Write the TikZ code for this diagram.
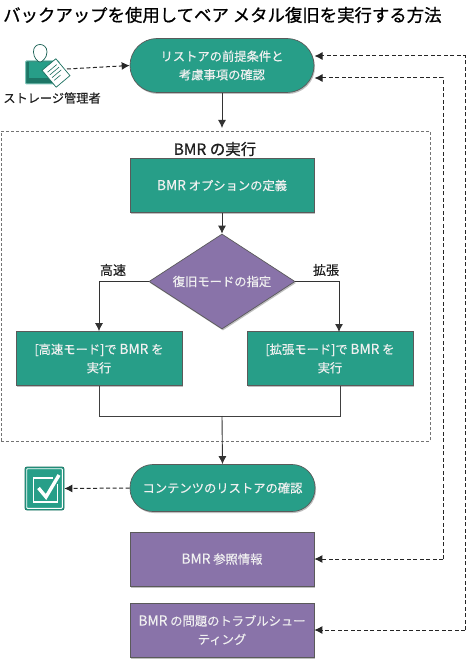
\documentclass[tikz,border=0pt]{standalone}
\usepackage{fontspec}
\setmainfont{Noto Sans CJK JP}
\newfontfamily\medf[FakeBold=0.35]{Noto Sans CJK JP}
\newfontfamily\headf[FakeBold=0.8]{Noto Sans CJK JP}
\newcommand{\bmrword}{{\fontsize{13.8}{18.5}\selectfont BMR}}
\usetikzlibrary{arrows.meta,shapes.geometric,shadows,calc}
\definecolor{teal1}{HTML}{279E88}
\definecolor{purp}{HTML}{8973A9}
\definecolor{edge}{HTML}{5A5A5A}
\tikzset{
 x=1pt,y=-1pt,
 shad/.style={drop shadow={shadow xshift=1pt,shadow yshift=-1.5pt,opacity=.25,fill=black}},
 tx/.style={text=white!94!black,font=\medf\fontsize{12.3}{18.5}\selectfont,align=center},
 boxbase/.style={draw=edge,line width=.7pt,minimum width=184pt,minimum height=54pt,inner sep=0pt,shad,tx},
 greenbox/.style={boxbase,fill=teal1},
 purpbox/.style={boxbase,fill=purp},
 sidebox/.style={greenbox,minimum width=166pt},
 pillbox/.style={boxbase,fill=teal1},
 lab/.style={text=black!88,font=\medf\fontsize{12.2}{14}\selectfont,inner sep=0pt},
 flow/.style={draw=black!80,line width=.9pt,-{Latex[length=8pt,width=8pt]}},
 plainline/.style={draw=black!75,line width=.9pt},
 dashflow/.style={draw=black!85,line width=1pt,dash pattern=on 4pt off 2.5pt,-{Latex[length=8pt,width=8pt]}},
}
\begin{document}
\begin{tikzpicture}
\useasboundingbox (0,0) rectangle (470,660);
\node[anchor=west,inner sep=0pt,font=\headf\fontsize{17.4}{20}\selectfont] (title) at (3,15) {バックアップを使用してベア メタル復旧を実行する方法};
% BMR frame
\node[draw=black!55,densely dashed,line width=.7pt,minimum width=429pt,minimum height=310pt,inner sep=0pt] (frame) at (215.5,286) {};
\node[lab,font=\headf\fontsize{15.5}{17}\selectfont] (framelab) at (215,149) {BMR の実行};
% nodes
\node[pillbox,rounded corners=27pt] (check) at (222,65.5) {リストアの前提条件と\\考慮事項の確認};
\node[greenbox] (opt) at (222,185.5) {\bmrword{} オプションの定義};
\node[diamond,draw=edge,line width=.7pt,fill=purp,shad,tx,minimum width=146pt,minimum height=95pt,inner sep=0pt,aspect=1.54] (mode) at (222,281.5) {復旧モードの指定};
\node[sidebox] (fast) at (99,358.5) {[高速モード]で \bmrword{} を\\実行};
\node[sidebox] (ext) at (330,358.5) {[拡張モード]で \bmrword{} を\\実行};
\node[pillbox,rounded corners=23pt,minimum width=185pt,minimum height=47pt] (verify) at (222.5,488) {コンテンツのリストアの確認};
\node[purpbox] (ref) at (222,559) {\bmrword{} 参照情報};
\node[purpbox] (trouble) at (222,630) {\bmrword{} の問題のトラブルシュー\\ティング};
% admin icon
\node[lab] (admin) at (52,98) {ストレージ管理者};
\coordinate (adminout) at (67,69);
\filldraw[fill=teal1!75!black,draw=teal1!60,line width=1pt,rounded corners=1pt] (25.5,61) rectangle (59,84);
\fill[teal1] (29,62) rectangle (54,78);
\draw[teal1!60!black,line width=.7pt,fill=white] (33.5,52) .. controls (33,42) and (47,42) .. (47,52) .. controls (47,58) and (42,62) .. (40,62) .. controls (38,62) and (33.5,58) .. (33.5,52) -- cycle;
\begin{scope}[rotate around={40:(56,73)}]
 \filldraw[fill=white,draw=teal1!70!black,line width=.7pt] (47,62) rectangle (65,84);
 \draw[teal1!70!black,line width=.6pt] (50,67) -- (62,67) (50,70.5) -- (62,70.5) (50,74) -- (62,74) (50,77.5) -- (58,77.5);
\end{scope}
% check icon
\node[fill=teal1,draw=teal1!70!black,line width=.7pt,rounded corners=2pt,minimum width=39pt,minimum height=43pt,inner sep=0pt] (done) at (44.5,488.5) {};
\draw[white,line width=.8pt,rounded corners=1pt] ($(done.north west)+(2,2)$) rectangle ($(done.south east)+(-2,-2)$);
\draw[white,line width=1.8pt] (57.5,484) -- (57.5,502) -- (33.5,502) -- (33.5,478) -- (53,478);
\draw[white,line width=3.4pt] (38.5,488) -- (46,497) -- (59,475);
% connectors
\coordinate (extin) at (339,332);
\coordinate (mergeL) at (99,416);
\coordinate (mergeR) at (340,416);
\coordinate (mergeC) at (222,416);
\coordinate (extout) at (340,386);
\coordinate (frameIn) at (222,128);
\draw[dashflow] (adminout) -- (check.west);
\draw[flow] (check) -- (frameIn);
\draw[flow] (opt) -- (mode);
\draw[flow] (mode.west) -| (fast.north);
\draw[flow] (mode.east) -| (extin);
\draw[plainline] (fast.south) -- (mergeL) -- (mergeR) -- (extout);
\draw[flow] (mergeC) -- (verify.north);
\draw[dashflow] (verify.west) -- (done.east);
\coordinate (r1) at (443,78);
\coordinate (r1e) at (314.5,78);
\coordinate (r2) at (443,559);
\coordinate (s1) at (465,56);
\coordinate (s1e) at (314.5,56);
\coordinate (s2) at (465,630);
\draw[dashflow] (r2) -- (r1) -- (r1e);
\draw[dashflow] (r2) -- (ref.east);
\draw[dashflow] (s2) -- (s1) -- (s1e);
\draw[dashflow] (s2) -- (trouble.east);
\node[lab,font=\medf\fontsize{13}{15}\selectfont] (lfast) at (113,270) {高速};
\node[lab,font=\medf\fontsize{13}{15}\selectfont] (lext) at (326,270) {拡張};
\end{tikzpicture}
\end{document}
